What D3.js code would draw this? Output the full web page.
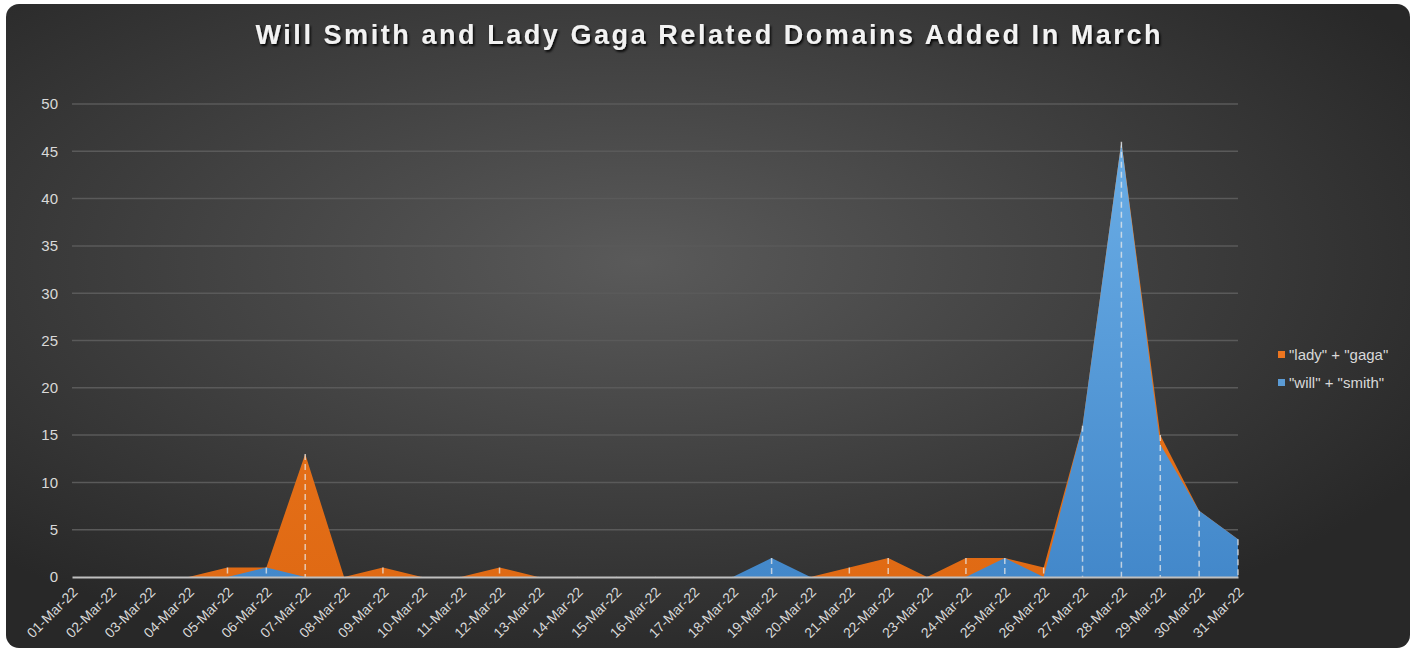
<!DOCTYPE html>
<html>
<head>
<meta charset="utf-8">
<script src="https://cdn.jsdelivr.net/npm/d3@7"></script>
<style>
  html, body { margin: 0; padding: 0; background: #ffffff; }
  svg { display: block; }
</style>
</head>
<body>
<svg id="chart" width="1416" height="650"></svg>
<script>
// data
const days = d3.range(1, 32).map(d => (d < 10 ? "0" + d : "" + d) + "-Mar-22");
const ladyGaga = [0,0,0,0,1,1,13,0,1,0,0,1,0,0,0,0,0,0,0,0,1,2,0,2,2,1,16,46,15,7,4];
const willSmith = [0,0,0,0,0,1,0,0,0,0,0,0,0,0,0,0,0,0,2,0,0,0,0,0,2,0,16,46,14,7,4];
const yTicks = [0,5,10,15,20,25,30,35,40,45,50];
const seriesNames = ['"lady" + "gaga"', '"will" + "smith"'];

const svg = d3.select("#chart");
const defs = svg.append("defs");

const bg = defs.append("radialGradient").attr("id", "bg")
  .attr("cx", "45%").attr("cy", "40%").attr("r", "65%");
bg.append("stop").attr("offset", "0%").attr("stop-color", "#5a5a5a");
bg.append("stop").attr("offset", "100%").attr("stop-color", "#282828");

const blueGrad = defs.append("linearGradient").attr("id", "blueGrad")
  .attr("x1", 0).attr("y1", 0).attr("x2", 0).attr("y2", 1);
blueGrad.append("stop").attr("offset", "0%").attr("stop-color", "#6aade6");
blueGrad.append("stop").attr("offset", "100%").attr("stop-color", "#4388ca");

const orangeGrad = defs.append("linearGradient").attr("id", "orangeGrad")
  .attr("x1", 0).attr("y1", 0).attr("x2", 0).attr("y2", 1);
orangeGrad.append("stop").attr("offset", "0%").attr("stop-color", "#ee7a1e");
orangeGrad.append("stop").attr("offset", "100%").attr("stop-color", "#e06a14");

const shadow = defs.append("filter").attr("id", "shadow")
  .attr("x", "-5%").attr("y", "-20%").attr("width", "110%").attr("height", "160%");
shadow.append("feDropShadow").attr("dx", 1.5).attr("dy", 2).attr("stdDeviation", 1)
  .attr("flood-color", "#000").attr("flood-opacity", 0.9);

// card
svg.append("rect")
  .attr("x", 6).attr("y", 4).attr("width", 1404).attr("height", 644)
  .attr("rx", 13).attr("fill", "url(#bg)");

// title
svg.append("text")
  .attr("x", 708).attr("y", 44)
  .attr("text-anchor", "middle")
  .attr("font-family", "Liberation Sans Narrow, Arial Narrow, Liberation Sans, sans-serif")
  .attr("font-weight", "bold")
  .attr("font-size", 27)
  .attr("textLength", 905)
  .attr("lengthAdjust", "spacing")
  .attr("fill", "#f2f2f2")
  .attr("filter", "url(#shadow)")
  .text("Will Smith and Lady Gaga Related Domains Added In March");

const x = d3.scalePoint().domain(days).range([72, 1238]);
const y = d3.scaleLinear().domain([0, 50]).range([577, 104]);

// gridlines
svg.append("g")
  .selectAll("line")
  .data(yTicks.filter(t => t > 0))
  .join("line")
  .attr("x1", 72).attr("x2", 1238)
  .attr("y1", d => y(d)).attr("y2", d => y(d))
  .attr("stroke", "#5a5a5a").attr("stroke-width", 1.5);

// y labels
const yAxis = svg.append("g")
  .attr("transform", "translate(72,0)")
  .call(d3.axisLeft(y).tickValues(yTicks).tickSize(0).tickPadding(14));
yAxis.select(".domain").remove();
yAxis.selectAll("text")
  .attr("font-family", "Liberation Sans, Arial, sans-serif")
  .attr("font-size", 15)
  .attr("fill", "#d9d9d9");

const area = (vals) => d3.area()
  .x((d, i) => x(days[i]))
  .y0(y(0))
  .y1(d => y(d))(vals);

svg.append("path")
  .attr("d", area(ladyGaga))
  .attr("fill", "url(#orangeGrad)");

svg.append("path")
  .attr("d", area(willSmith))
  .attr("fill", "url(#blueGrad)");

// drop lines
svg.append("g")
  .selectAll("line")
  .data(days.map((d, i) => ({ day: d, v: Math.max(ladyGaga[i], willSmith[i]) })))
  .join("line")
  .attr("x1", d => x(d.day)).attr("x2", d => x(d.day))
  .attr("y1", d => y(d.v)).attr("y2", y(0))
  .attr("stroke", "#e8e8e8").attr("stroke-opacity", 0.75)
  .attr("stroke-width", 1.5)
  .attr("stroke-dasharray", "6,4");

// x axis
const xAxis = svg.append("g")
  .attr("transform", "translate(0,577)")
  .call(d3.axisBottom(x).tickSize(0).tickPadding(0));
xAxis.select(".domain")
  .attr("stroke", "#bfbfbf").attr("stroke-width", 2);
xAxis.selectAll("text")
  .attr("font-family", "Liberation Sans, Arial, sans-serif")
  .attr("font-size", 14)
  .attr("fill", "#d9d9d9")
  .attr("text-anchor", "end")
  .attr("dy", 0)
  .attr("transform", "translate(6,16) rotate(-45)");

// legend
const legend = svg.append("g").attr("transform", "translate(1278,355)");
const colors = ["#ec7520", "#5b9bd5"];
seriesNames.forEach((name, i) => {
  const g = legend.append("g").attr("transform", `translate(0,${i * 28})`);
  g.append("rect").attr("x", 0).attr("y", -4).attr("width", 7).attr("height", 7)
    .attr("fill", colors[i]);
  g.append("text").attr("x", 11).attr("y", 0).attr("dy", "0.35em")
    .attr("font-family", "Liberation Sans, Arial, sans-serif")
    .attr("font-size", 15)
    .attr("fill", "#d9d9d9")
    .text(name);
});
</script>
</body>
</html>
